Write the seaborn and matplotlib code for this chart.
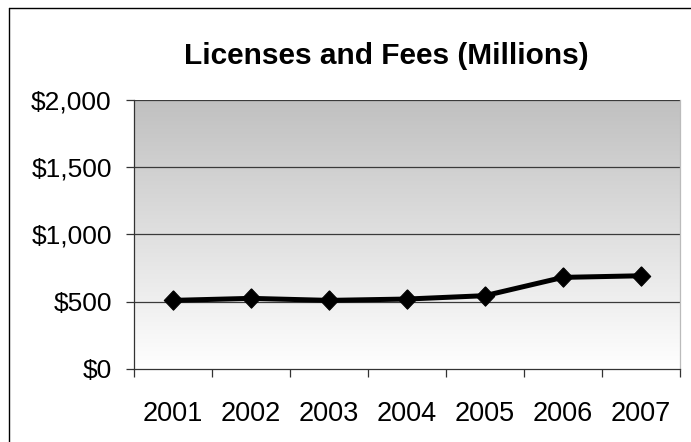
import numpy as np
import pandas as pd
import matplotlib
matplotlib.use("Agg")
import matplotlib.pyplot as plt
from matplotlib.lines import Line2D
from matplotlib.ticker import FuncFormatter, FixedLocator
import seaborn as sns

# Licenses and fees revenue, in millions of dollars
years = ["2001", "2002", "2003", "2004", "2005", "2006", "2007"]
revenue = [510, 525, 510, 520, 545, 681, 693]
y_ticks = [0, 500, 1000, 1500, 2000]

sns.set_theme(style="white")
plt.rcParams["font.family"] = ["Liberation Sans", "DejaVu Sans"]

df = pd.DataFrame({"pos": np.arange(len(years)), "revenue": revenue})

fig = plt.figure(figsize=(6.91, 4.42), dpi=100)
fig.patch.set_facecolor("white")
ax = fig.add_axes([0.1939, 0.1652, 0.790, 0.6086])

# Vertical gray-to-white gradient behind the plot area
grad = np.linspace(1.0, 0.0, 256).reshape(-1, 1)
gray_cmap = matplotlib.colors.LinearSegmentedColormap.from_list(
    "bg", ["#ffffff", "#c0c0c0"])
ax.imshow(grad, aspect="auto", cmap=gray_cmap, extent=[0, 1, 0, 1],
          transform=ax.transAxes, zorder=0, vmin=0, vmax=1)

diamond = [(0, 1), (0.95, 0), (0, -1), (-0.95, 0), (0, 1)]
sns.lineplot(data=df, x="pos", y="revenue", ax=ax, color="black",
             linewidth=3.6, marker=diamond, markersize=14,
             markeredgecolor="black", markerfacecolor="black", zorder=5)

ax.set_xlim(-0.5, len(years) - 0.5)
ax.set_ylim(0, 2000)

ax.yaxis.set_major_locator(FixedLocator(y_ticks))
ax.yaxis.set_major_formatter(FuncFormatter(lambda v, p: f"${v:,.0f}"))
for v in y_ticks[1:]:
    ax.axhline(v, color="#3a3a3a", linewidth=0.9, zorder=1)

ax.set_xticks(np.arange(len(years)))
ax.set_xticklabels(years)
ax.set_xticks(np.arange(len(years) + 1) - 0.5, minor=True)
ax.tick_params(axis="x", which="major", length=0, pad=23, labelsize=19.5,
               colors="black")
ax.tick_params(axis="x", which="minor", bottom=True, length=6, width=0.9,
               color="#333333", direction="out")
ax.tick_params(axis="y", which="major", left=True, length=6, width=0.9,
               color="#333333", direction="out", pad=10, labelsize=19,
               labelcolor="black")

ax.set_xlabel("")
ax.set_ylabel("")
ax.grid(False)

for side in ("left", "bottom"):
    ax.spines[side].set_color("#333333")
    ax.spines[side].set_linewidth(0.9)
ax.spines["right"].set_color("#bbbbbb")
ax.spines["right"].set_linewidth(0.9)
ax.spines["top"].set_visible(False)

fig.text(0.5593, 0.873, "Licenses and Fees (Millions)", ha="center",
         va="center", fontsize=21.5, fontweight="bold", color="black")

# Chart frame: left and top edges
x0, y0 = 8.5 / 691, 1 - 7.5 / 442
fig.lines.append(Line2D([x0, 1.0], [y0, y0], transform=fig.transFigure,
                        color="black", linewidth=1.0))
fig.lines.append(Line2D([x0, x0], [0.0, y0], transform=fig.transFigure,
                        color="black", linewidth=1.0))

fig.savefig("out.png", dpi=100)
